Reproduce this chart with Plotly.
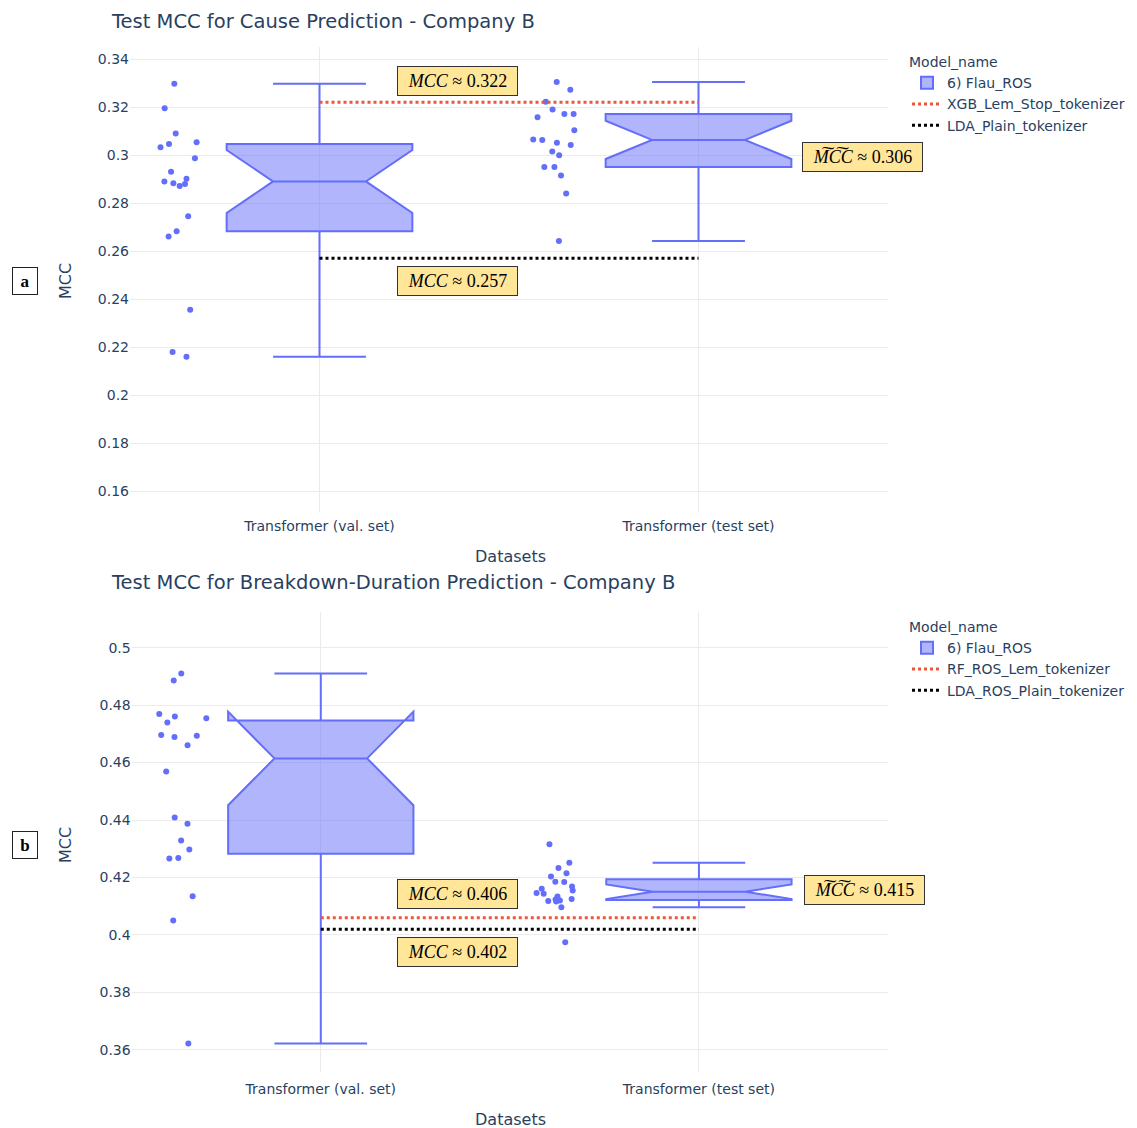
import plotly.graph_objects as go

W, H = 1137, 1128
OFF = 8  # page body margin
FW, FH = W - OFF, H - OFF

categories = ["Transformer (val. set)", "Transformer (test set)"]
box_name = "6) Flau_ROS"

# Panel a: Cause prediction
cause_val = [0.3297, 0.3195, 0.3090, 0.3053, 0.3046, 0.3032, 0.2987, 0.2930, 0.2901,
             0.2890, 0.2882, 0.2879, 0.2871, 0.2745, 0.2682, 0.2661, 0.2355, 0.2179, 0.2160]
cause_test = [0.3304, 0.3272, 0.3222, 0.3190, 0.3171, 0.3171, 0.3157, 0.3103, 0.3065,
              0.3063, 0.3051, 0.3042, 0.3015, 0.2999, 0.2950, 0.2950, 0.2915, 0.2840, 0.2642]
cause_ref_names = ["XGB_Lem_Stop_tokenizer", "LDA_Plain_tokenizer"]
cause_ref_values = [0.322, 0.257]
cause_median_test = 0.306

# Panel b: Breakdown-duration prediction
dur_val = [0.4910, 0.4886, 0.4769, 0.4760, 0.4754, 0.4739, 0.4696, 0.4693, 0.4689, 0.4660,
           0.4569, 0.4409, 0.4387, 0.4329, 0.4297, 0.4268, 0.4266, 0.4135, 0.4050, 0.3622]
dur_test = [0.4316, 0.4251, 0.4233, 0.4215, 0.4203, 0.4185, 0.4184, 0.4169, 0.4161, 0.4155,
            0.4146, 0.4143, 0.4134, 0.4125, 0.4123, 0.4120, 0.4118, 0.4116, 0.4096, 0.3975]
dur_ref_names = ["RF_ROS_Lem_tokenizer", "LDA_ROS_Plain_tokenizer"]
dur_ref_values = [0.406, 0.402]
dur_median_test = 0.415

ref_colors = ["#EF553B", "#000000"]

BOX_LINE = "#636EFA"
BOX_FILL = "rgba(99,110,250,0.5)"
FONT = "DejaVu Sans"
SERIF = "Liberation Serif"
TXT = "#2a3f5f"
GRID = "#EBEBEB"


def px_x(p):
    return (p - OFF) / FW


def px_y(p):
    return 1 - (p - OFF) / FH


fig = go.Figure()

panels = [
    dict(val=cause_val, test=cause_test, names=cause_ref_names, vals=cause_ref_values,
         med=cause_median_test, xa="x", ya="y", leg="legend"),
    dict(val=dur_val, test=dur_test, names=dur_ref_names, vals=dur_ref_values,
         med=dur_median_test, xa="x2", ya="y2", leg="legend2"),
]

for p in panels:
    fig.add_trace(go.Box(
        x=[categories[0]] * len(p["val"]) + [categories[1]] * len(p["test"]),
        y=p["val"] + p["test"],
        name=box_name, boxpoints="all", notched=True, quartilemethod="exclusive",
        jitter=0.3, pointpos=-1.5,
        marker=dict(color=BOX_LINE, size=6), line=dict(color=BOX_LINE, width=2),
        fillcolor=BOX_FILL, offsetgroup=box_name, alignmentgroup="True",
        xaxis=p["xa"], yaxis=p["ya"], legend=p["leg"],
    ))
    for nm, v, c in zip(p["names"], p["vals"], ref_colors):
        fig.add_trace(go.Scatter(
            x=categories, y=[v, v], mode="lines", name=nm,
            line=dict(color=c, dash="dot", width=3),
            xaxis=p["xa"], yaxis=p["ya"], legend=p["leg"],
        ))

tick_font = dict(family=FONT, size=14, color=TXT)
axis_common = dict(showgrid=True, gridcolor=GRID, zeroline=False, showline=False,
                   tickfont=tick_font, ticks="")

leg_common = dict(xanchor="left", yanchor="top",
                  title=dict(text="Model_name", font=dict(family=FONT, size=14, color=TXT)),
                  font=dict(family=FONT, size=14, color=TXT), bgcolor="rgba(0,0,0,0)")

fig.update_layout(
    width=FW, height=FH, autosize=False,
    margin=dict(l=0, r=0, t=0, b=0),
    template="plotly_white",
    paper_bgcolor="white", plot_bgcolor="white",
    font=dict(family=FONT, color=TXT),
    boxmode="group",
    xaxis=dict(domain=[px_x(130), px_x(888)], anchor="y", type="category",
               categoryorder="array", categoryarray=categories, range=[-0.5, 1.5],
               ticklabelstandoff=4, **axis_common),
    yaxis=dict(domain=[px_y(512), px_y(47)], anchor="x", range=[0.1513, 0.345],
               dtick=0.02, tick0=0, **axis_common),
    xaxis2=dict(domain=[px_x(131.7), px_x(888)], anchor="y2", type="category",
                categoryorder="array", categoryarray=categories, range=[-0.5, 1.5],
                ticklabelstandoff=7, **axis_common),
    yaxis2=dict(domain=[px_y(1072), px_y(612)], anchor="x2", range=[0.3523, 0.5124],
                dtick=0.02, tick0=0, **axis_common),
    legend=dict(x=px_x(907), y=px_y(49), **leg_common),
    legend2=dict(x=px_x(907), y=px_y(614), **leg_common),
)

ann = []
# Titles (top one anchored to the top edge so it is not clipped)
ann.append(dict(text="Test MCC for Cause Prediction - Company B", xref="paper", yref="paper",
                x=px_x(109), y=1.0, xanchor="left", yanchor="top", showarrow=False,
                font=dict(family=FONT, size=19.5, color=TXT)))
ann.append(dict(text="Test MCC for Breakdown-Duration Prediction - Company B", xref="paper",
                yref="paper", x=px_x(109), y=px_y(582), xanchor="left", yanchor="middle",
                showarrow=False, font=dict(family=FONT, size=19.5, color=TXT)))
# Axis titles
for yc in [281, 845]:
    ann.append(dict(text="MCC", xref="paper", yref="paper", x=px_x(65), y=px_y(yc),
                    xanchor="center", yanchor="middle", textangle=-90, showarrow=False,
                    font=dict(family=FONT, size=16, color=TXT)))
for yc in [556, 1119]:
    ann.append(dict(text="Datasets", xref="paper", yref="paper", x=px_x(510), y=px_y(yc),
                    xanchor="center", yanchor="middle", showarrow=False,
                    font=dict(family=FONT, size=16, color=TXT)))
# Panel labels
for lab, yc in [("a", 281), ("b", 845)]:
    ann.append(dict(text="<b>" + lab + "</b>", xref="paper", yref="paper", x=px_x(25), y=px_y(yc),
                    xanchor="center", yanchor="middle", showarrow=False,
                    width=22, height=24, bgcolor="white", bordercolor="#222", borderwidth=1,
                    font=dict(family=SERIF, size=17, color="black")))

box_style = dict(showarrow=False, bgcolor="#FFE699", bordercolor="#333333", borderwidth=1,
                 borderpad=2, width=115, height=24, xanchor="center", yanchor="middle",
                 font=dict(family=SERIF, size=18, color="black"))

# panel a value boxes
ann.append(dict(text="<i>MCC</i> ≈ %.3f" % cause_ref_values[0], xref="x", yref="y",
                x=0.365, y=0.3308, **box_style))
ann.append(dict(text="<i>MCC</i> ≈ %.3f" % cause_ref_values[1], xref="x", yref="y",
                x=0.365, y=0.2475, **box_style))
ann.append(dict(text="<i>M\u0360C\u0360C</i> ≈ %.3f" % cause_median_test, xref="x", yref="y",
                x=1.434, y=0.2992, **box_style))
# panel b value boxes
ann.append(dict(text="<i>MCC</i> ≈ %.3f" % dur_ref_values[0], xref="x2", yref="y2",
                x=0.361, y=0.4143, **box_style))
ann.append(dict(text="<i>MCC</i> ≈ %.3f" % dur_ref_values[1], xref="x2", yref="y2",
                x=0.361, y=0.3941, **box_style))
ann.append(dict(text="<i>M\u0360C\u0360C</i> ≈ %.3f" % dur_median_test, xref="x2", yref="y2",
                x=1.438, y=0.4157, **box_style))

fig.update_layout(annotations=ann)

fig.write_html("out.html")
